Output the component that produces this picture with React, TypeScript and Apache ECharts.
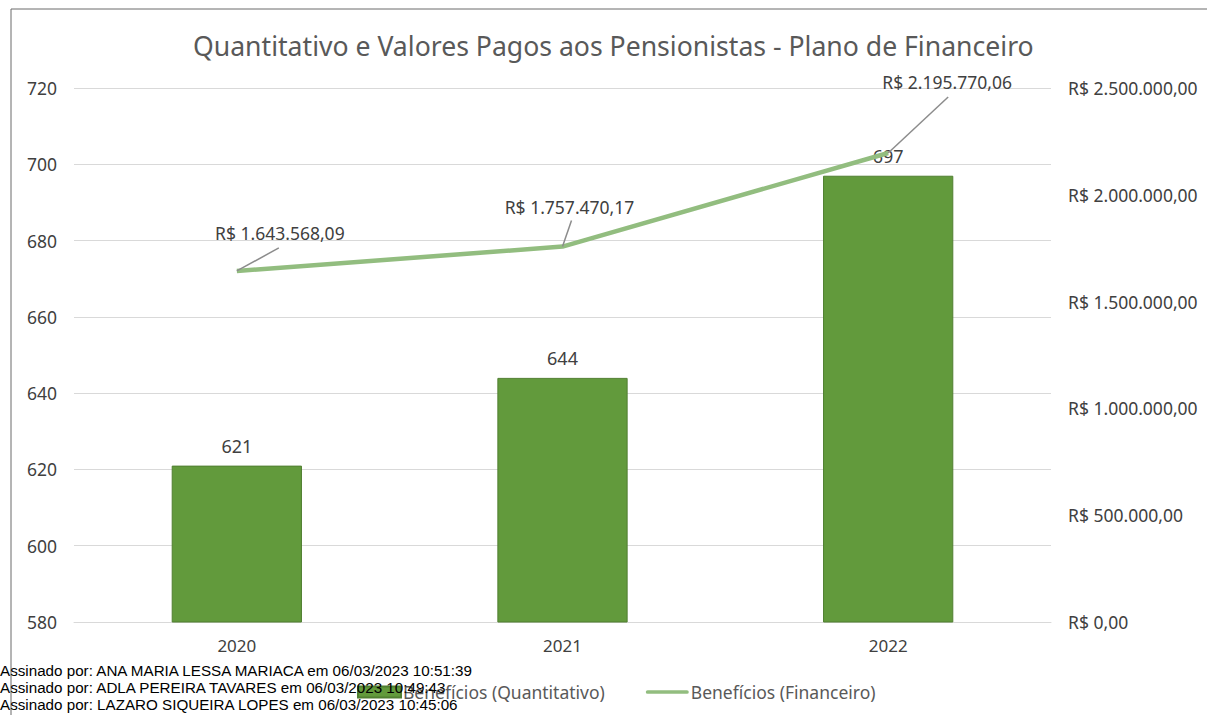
import React, { useEffect, useRef } from "react";
import * as echarts from "echarts";

const categories = ["2020", "2021", "2022"];
const quantitativo = [621, 644, 697];
const financeiro = [1643568.09, 1757470.17, 2195770.06];
const leftTicks = { min: 580, max: 720, interval: 20 };
const rightTicks = { min: 0, max: 2500000, interval: 500000 };
// leader-line end and label centre, relative to each line point (px)
const leaderEndOffsets = [
  [42, -23],
  [9, -26],
  [60, -56],
];
const labelCenterOffsets = [
  [43, -38],
  [7, -40],
  [59, -71],
];
const signatures = [
  "Assinado por: ANA MARIA LESSA MARIACA em 06/03/2023 10:51:39",
  "Assinado por: ADLA PEREIRA TAVARES em 06/03/2023 10:49:43",
  "Assinado por: LAZARO SIQUEIRA LOPES em 06/03/2023 10:45:06",
];

function formatBRL(v: number): string {
  const fixed = Math.abs(v).toFixed(2);
  const [intPart, dec] = fixed.split(".");
  const withDots = intPart.replace(/\B(?=(\d{3})+(?!\d))/g, ".");
  return "R$ " + (v < 0 ? "-" : "") + withDots + "," + dec;
}

const FONT = "Noto Sans";
const TXT = "#404040";

export default function App() {
  const ref = useRef<HTMLDivElement>(null);
  useEffect(() => {
    if (!ref.current) return;
    const chart = echarts.init(ref.current, null, { renderer: "svg" });
    chart.setOption({
      animation: false,
      backgroundColor: "#ffffff",
      textStyle: { fontFamily: FONT },
      title: {
        text: "Quantitativo e Valores Pagos aos Pensionistas - Plano de Financeiro",
        left: 188,
        top: 27,
        textStyle: { fontFamily: FONT, fontSize: 26.6, fontWeight: "normal", color: "#595959" },
      },
      grid: { left: 74, right: 156, top: 88, bottom: 93, containLabel: false },
      legend: {
        left: 352,
        top: 678,
        itemWidth: 43,
        itemHeight: 11,
        itemGap: 41,
        textStyle: { fontFamily: FONT, fontSize: 17.5, color: "#595959", padding: [0, 0, 0, -3] },
        data: [
          { name: "Benefícios (Quantitativo)", icon: "rect" },
          { name: "Benefícios (Financeiro)", icon: "path://M2,0 L44,0 A2,2 0 0 1 44,4 L2,4 A2,2 0 0 1 2,0 Z" },
        ],
      },
      xAxis: {
        type: "category",
        data: categories,
        axisLine: { show: true, lineStyle: { color: "#d9d9d9" } },
        axisTick: { show: false },
        axisLabel: { fontFamily: FONT, fontSize: 17, color: TXT, margin: 15 },
      },
      yAxis: [
        {
          type: "value",
          min: leftTicks.min,
          max: leftTicks.max,
          interval: leftTicks.interval,
          axisLine: { show: false },
          axisTick: { show: false },
          splitLine: { lineStyle: { color: "#d9d9d9", width: 1 } },
          axisLabel: { fontFamily: FONT, fontSize: 17.5, color: TXT, margin: 17 },
        },
        {
          type: "value",
          min: rightTicks.min,
          max: rightTicks.max,
          interval: rightTicks.interval,
          axisLine: { show: false },
          axisTick: { show: false },
          splitLine: { show: false },
          axisLabel: {
            fontFamily: FONT,
            fontSize: 17.5,
            color: TXT,
            margin: 17,
            formatter: (v: number) => formatBRL(v),
          },
        },
      ],
      series: [
        {
          name: "Benefícios (Quantitativo)",
          type: "bar",
          data: quantitativo,
          barWidth: "40%",
          itemStyle: { color: "#629a3c", borderColor: "#507f31", borderWidth: 1 },
          label: {
            show: true,
            position: "top",
            distance: 11,
            fontFamily: FONT,
            fontSize: 18,
            color: TXT,
          },
        },
        {
          name: "Benefícios (Financeiro)",
          type: "line",
          yAxisIndex: 1,
          data: financeiro,
          symbol: "none",
          lineStyle: { color: "#92bd7f", width: 4.5 },
          itemStyle: { color: "#92bd7f" },
          z: 3,
        },
        {
          name: "financeiro-labels",
          type: "custom",
          yAxisIndex: 1,
          z: 4,
          silent: true,
          data: financeiro.map((v, i) => [i, v]),
          renderItem: (params: any, api: any) => {
            const i = params.dataIndex;
            const pt = api.coord([api.value(0), api.value(1)]);
            const le = leaderEndOffsets[i];
            const lc = labelCenterOffsets[i];
            return {
              type: "group",
              children: [
                {
                  type: "line",
                  shape: { x1: pt[0], y1: pt[1], x2: pt[0] + le[0], y2: pt[1] + le[1] },
                  style: { stroke: "#8c8c8c", lineWidth: 1.5 },
                },
                {
                  type: "text",
                  x: pt[0] + lc[0],
                  y: pt[1] + lc[1],
                  style: {
                    text: formatBRL(api.value(1)),
                    fill: TXT,
                    fontFamily: FONT,
                    fontSize: 17.5,
                    align: "center",
                    verticalAlign: "middle",
                  },
                },
              ],
            };
          },
        },
      ],
      graphic: [
        {
          type: "rect",
          shape: { x: 11, y: 9, width: 1300, height: 800 },
          style: { fill: "none", stroke: "#6b6b6b", lineWidth: 1 },
          z: 0,
          silent: true,
        },
        ...signatures.map((s, i) => ({
          type: "text",
          left: 0,
          top: 663 + i * 17,
          z: 100,
          style: {
            text: s,
            fontFamily: "Liberation Sans",
            fontSize: 15.2,
            fill: "#000000",
          },
        })),
      ],
    });
    return () => chart.dispose();
  }, []);
  return (
    <div
      ref={ref}
      style={{ position: "fixed", left: 0, top: 0, width: 1207, height: 715 }}
    />
  );
}
